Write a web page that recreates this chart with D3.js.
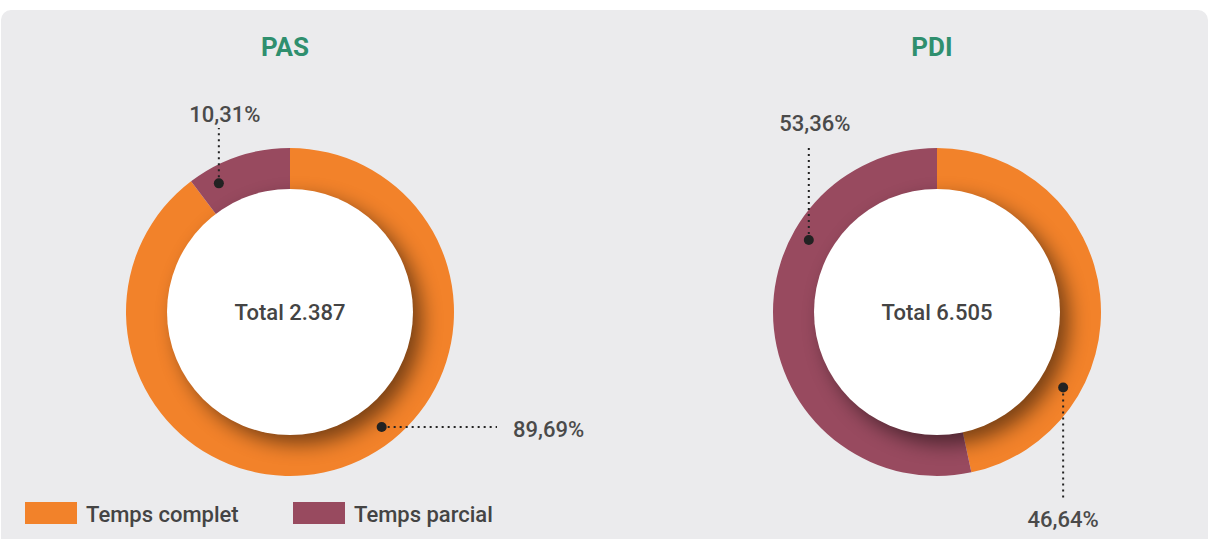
<!DOCTYPE html>
<html>
<head>
<meta charset="utf-8">
<script src="https://cdn.jsdelivr.net/npm/d3@7"></script>
<style>
  body { margin: 0; background: #fff; font-family: Roboto, "Noto Sans", sans-serif; }
</style>
</head>
<body>
<div id="chart"></div>
<script>
// data
const categories = ['Temps complet', 'Temps parcial'];
const colors = ['#f2822a', '#984a5f'];
const groups = ['PAS', 'PDI'];
const totals = ['Total 2.387', 'Total 6.505'];
const pasValues = [89.69, 10.31];
const pdiValues = [46.64, 53.36];
const valueLabels = [['89,69%', '10,31%'], ['46,64%', '53,36%']];

// where inside the slice the marker sits (0..1), leader direction and length
const markerPos = [[0.438, 0.22], [0.72, 0.684]];
const leaderDir = [['right', 'up'], ['down', 'up']];
const leaderEnd = [[207, -184], [188, -167]];

const width = 1211, height = 539;
const outerR = 164, innerR = 123;

const svg = d3.select('#chart').append('svg')
  .attr('width', width)
  .attr('height', height);

const defs = svg.append('defs');
defs.append('filter')
  .attr('id', 'blur')
  .attr('x', '-50%').attr('y', '-50%').attr('width', '200%').attr('height', '200%')
  .append('feGaussianBlur').attr('stdDeviation', 10);

svg.append('rect')
  .attr('x', 1).attr('y', 10)
  .attr('width', 1207).attr('height', 560)
  .attr('rx', 10)
  .attr('fill', '#ebebed');

const centers = d3.scalePoint().domain(groups).range([290, 937]);
const cy = 312;

const pie = d3.pie().sort(null).value(d => d);
const arc = d3.arc().innerRadius(innerR - 1).outerRadius(outerR);

[pasValues, pdiValues].forEach((vals, gi) => {
  const cx = centers(groups[gi]);
  const g = svg.append('g').attr('transform', `translate(${cx},${cy})`);

  svg.append('text')
    .text(groups[gi])
    .attr('x', cx - 5)
    .attr('y', 56)
    .attr('text-anchor', 'middle')
    .style('font-size', '26px')
    .style('font-weight', 'bold')
    .style('fill', '#2f8f6e');

  const arcs = pie(vals);
  g.selectAll('path.slice')
    .data(arcs)
    .join('path')
    .attr('class', 'slice')
    .attr('d', arc)
    .attr('fill', (d, i) => colors[i]);

  // inner shadow cast on the ring
  defs.append('clipPath').attr('id', 'ring' + gi)
    .append('circle').attr('r', outerR);
  g.append('g')
    .attr('clip-path', `url(#ring${gi})`)
    .append('circle')
    .attr('cx', 9).attr('cy', 9)
    .attr('r', innerR)
    .attr('fill', '#000')
    .attr('opacity', 0.5)
    .attr('filter', 'url(#blur)');

  g.append('circle')
    .attr('r', innerR)
    .attr('fill', '#fff');

  g.append('text')
    .text(totals[gi])
    .attr('y', 8)
    .attr('text-anchor', 'middle')
    .style('font-size', '22px')
    .style('font-weight', 500)
    .style('fill', '#444');

  arcs.forEach((a, i) => {
    const t = a.startAngle + (a.endAngle - a.startAngle) * markerPos[gi][i];
    const r = 147;
    const px = r * Math.sin(t), py = -r * Math.cos(t);
    const dir = leaderDir[gi][i];
    const end = leaderEnd[gi][i];
    let lx = px, ly = py, tx = px, ty = py, anchor = 'middle';
    if (dir === 'up') { ly = end; tx = px + 6; ty = ly - (gi === 0 ? 6 : 14); }
    if (dir === 'down') { ly = end; tx = px; ty = ly + 27; }
    if (dir === 'right') { lx = end; tx = lx + 16; ty = py + 10; anchor = 'start'; }

    g.append('line')
      .attr('x1', px).attr('y1', py)
      .attr('x2', lx).attr('y2', ly)
      .attr('stroke', '#222')
      .attr('stroke-width', 2)
      .attr('stroke-dasharray', '2,4');
    g.append('circle')
      .attr('cx', px).attr('cy', py)
      .attr('r', 5)
      .attr('fill', '#222');
    g.append('text')
      .text(valueLabels[gi][i])
      .attr('x', tx).attr('y', ty)
      .attr('text-anchor', anchor)
      .style('font-size', '22px')
      .style('font-weight', 500)
      .style('fill', '#4a4a4a');
  });
});

// legend
const legendX = d3.scalePoint().domain(categories).range([25, 293]);
const legend = svg.selectAll('g.legend')
  .data(categories)
  .join('g')
  .attr('class', 'legend')
  .attr('transform', d => `translate(${legendX(d)},502)`);
legend.append('rect')
  .attr('width', 52).attr('height', 22)
  .attr('fill', (d, i) => colors[i]);
legend.append('text')
  .text(d => d)
  .attr('x', 61).attr('y', 20)
  .style('font-size', '22px')
  .style('font-weight', 500)
  .style('fill', '#444');
</script>
</body>
</html>
